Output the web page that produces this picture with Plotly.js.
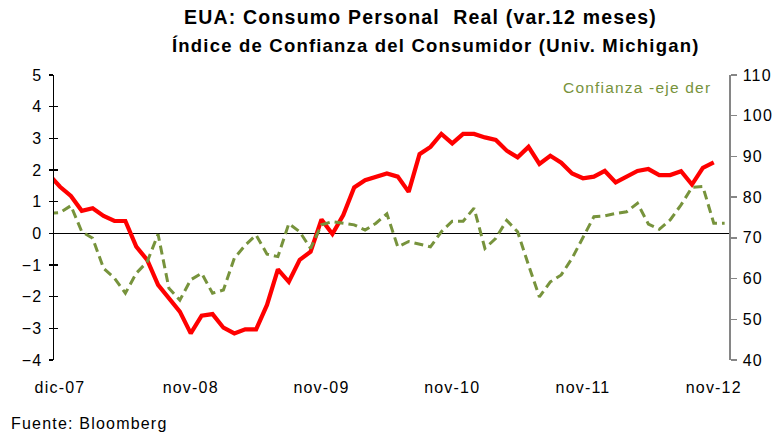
<!DOCTYPE html>
<html>
<head>
<meta charset="utf-8">
<script src="https://cdn.plot.ly/plotly-3.0.1.min.js"></script>
<style>
html,body{margin:0;padding:0;background:#fff;}
#chart{width:782px;height:436px;}
svg text{letter-spacing:1.2px;}
</style>
</head>
<body>
<div id="chart"></div>
<script>
// Monthly observations, nov-07 .. ene-13 (index 0 = nov-07)
const months = ["nov-07","dic-07","ene-08","feb-08","mar-08","abr-08","may-08","jun-08","jul-08","ago-08","sep-08","oct-08","nov-08","dic-08",
"ene-09","feb-09","mar-09","abr-09","may-09","jun-09","jul-09","ago-09","sep-09","oct-09","nov-09","dic-09",
"ene-10","feb-10","mar-10","abr-10","may-10","jun-10","jul-10","ago-10","sep-10","oct-10","nov-10","dic-10",
"ene-11","feb-11","mar-11","abr-11","may-11","jun-11","jul-11","ago-11","sep-11","oct-11","nov-11","dic-11",
"ene-12","feb-12","mar-12","abr-12","may-12","jun-12","jul-12","ago-12","sep-12","oct-12","nov-12","dic-12","ene-13"];

// Consumo personal real, var. 12 meses (%), eje izquierdo
const consumo = [1.85,1.47,1.18,0.71,0.79,0.55,0.39,0.39,-0.42,-0.84,-1.63,-2.05,-2.47,-3.16,-2.60,-2.55,-2.98,-3.16,-3.03,-3.03,
-2.26,-1.14,-1.53,-0.84,-0.58,0.44,-0.02,0.58,1.45,1.68,1.79,1.89,1.79,1.31,2.50,2.73,3.14,2.84,3.14,3.14,
3.03,2.95,2.61,2.40,2.73,2.19,2.45,2.23,1.89,1.74,1.79,1.97,1.61,1.79,1.97,2.03,1.84,1.84,1.96,1.54,2.07,2.24];

// Confianza del consumidor (Univ. Michigan), eje derecho
const confianza = [76.0,76.2,77.9,71.5,69.9,62.5,60.1,56.4,61.3,64.1,70.9,57.6,54.7,59.7,61.3,56.4,57.2,65.0,68.2,70.7,
66.0,65.4,73.5,71.5,67.4,73.2,74.0,73.6,73.2,71.9,73.6,75.9,67.8,69.1,68.4,67.8,71.5,74.1,74.1,77.3,
67.4,69.9,74.3,71.5,63.3,55.5,59.2,60.9,65.0,70.3,75.2,75.4,76.0,76.4,78.5,73.4,72.1,74.4,78.1,82.4,82.6,73.6,73.6];

const tickMonths = ["dic-07","dic-08","dic-09","dic-10","dic-11","dic-12"];
const tickLabels = ["dic-07","nov-08","nov-09","nov-10","nov-11","nov-12"];

const idx = arr => arr.map((_, i) => i);
const tickPos = tickMonths.map(m => months.indexOf(m));

const FONT = "Liberation Sans, Arial, sans-serif";
const GREEN = "#77933C";

const traces = [
  {x: idx(consumo), y: consumo, type: "scatter", mode: "lines", name: "Consumo",
   line: {color: "#FF0000", width: 4.2, shape: "linear"}, yaxis: "y", hoverinfo: "skip"},
  {x: idx(confianza), y: confianza, type: "scatter", mode: "lines", name: "Confianza",
   line: {color: GREEN, width: 3, dash: "9px,5px"}, yaxis: "y2", hoverinfo: "skip"},
  {x: [], y: [], type: "scatter", yaxis: "y3", showlegend: false}
];

const layout = {
  width: 782, height: 436,
  margin: {l: 54, r: 53, t: 75, b: 76},
  paper_bgcolor: "#fff", plot_bgcolor: "#fff",
  showlegend: false,
  font: {family: FONT, size: 16, color: "#000"},
  xaxis: {
    range: [0.45, 62.4], showgrid: false, zeroline: false, showline: false,
    ticks: "", tickvals: tickPos, ticktext: tickLabels,
    tickfont: {size: 16, color: "#000"}, ticklabelstandoff: 16, fixedrange: true
  },
  yaxis: {
    range: [-4, 5], dtick: 1, tick0: 0, showgrid: false,
    zeroline: true, zerolinecolor: "#000", zerolinewidth: 1.5,
    showline: true, linecolor: "#000", linewidth: 1.5,
    ticks: "outside", ticklen: 4, tickwidth: 1.5, tickcolor: "#000",
    tickfont: {size: 16, color: "#000"}, ticklabelstandoff: 3
  },
  yaxis3: {
    range: [-4, 5], dtick: 1, tick0: 0, overlaying: "y", side: "left",
    showgrid: false, zeroline: false, showline: false,
    ticks: "inside", ticklen: 4, tickwidth: 1.5, tickcolor: "#000",
    showticklabels: false
  },
  yaxis2: {
    range: [40, 110], dtick: 10, tick0: 40, overlaying: "y", side: "right",
    showgrid: false, zeroline: false,
    showline: true, linecolor: "#868686", linewidth: 1.5,
    ticks: "outside", ticklen: 6, tickwidth: 1.5, tickcolor: "#868686",
    tickfont: {size: 16, color: "#000"}, ticklabelstandoff: 3
  },
  annotations: [
    {text: "<b>EUA: Consumo Personal&nbsp; Real (var.12 meses)</b>", xref: "paper", yref: "paper",
     x: 0.5425, y: 1, yshift: 58, xanchor: "center", yanchor: "middle", showarrow: false,
     font: {size: 19.5, color: "#000", family: FONT}},
    {text: "<b>Índice de Confianza del Consumidor (Univ. Michigan)</b>", xref: "paper", yref: "paper",
     x: 0.566, y: 1, yshift: 30, xanchor: "center", yanchor: "middle", showarrow: false,
     font: {size: 18.5, color: "#000", family: FONT}},
    {text: "Confianza -eje der", xref: "paper", yref: "paper",
     x: 0.977, y: 1, yshift: -12, xanchor: "right", yanchor: "middle", showarrow: false,
     font: {size: 15.5, color: GREEN, family: FONT}},
    {text: "Fuente: Bloomberg", xref: "paper", yref: "paper",
     x: 0, xshift: -45, y: 0, yshift: -63, xanchor: "left", yanchor: "middle", showarrow: false,
     font: {size: 16, color: "#000", family: FONT}}
  ]
};

Plotly.newPlot("chart", traces, layout, {displayModeBar: false, staticPlot: true});
</script>
</body>
</html>
